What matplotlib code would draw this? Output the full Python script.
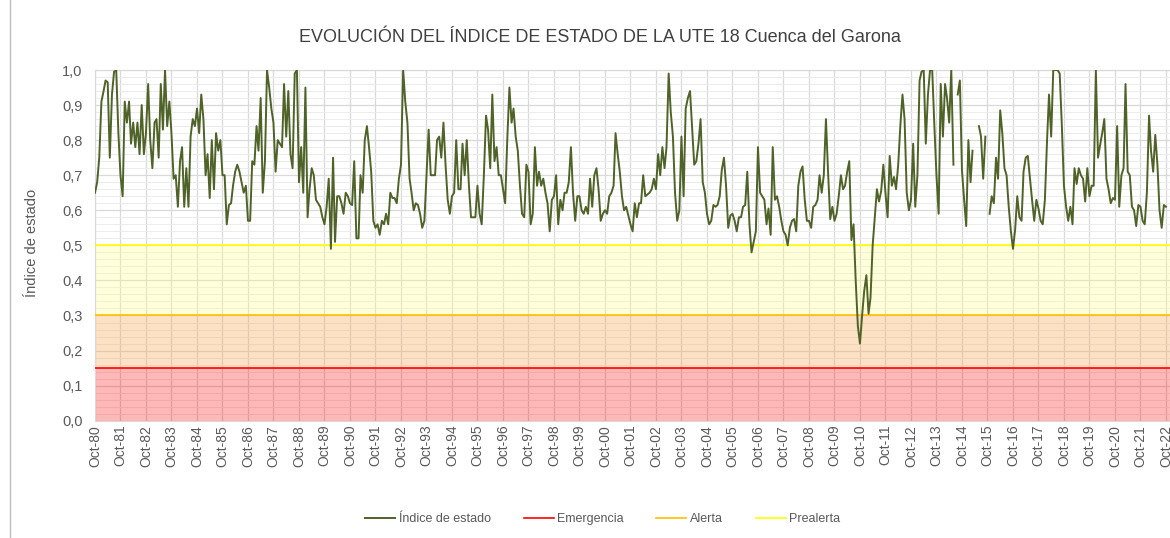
import numpy as np
import pandas as pd
import matplotlib
matplotlib.use('Agg')
import matplotlib.pyplot as plt
import matplotlib.dates as mdates
from matplotlib.lines import Line2D
from matplotlib.ticker import MultipleLocator, FuncFormatter

nan = np.nan

# Índice de estado mensual (oct-1980 ... oct-2022)
indice_80s = [
    0.65, 0.68, 0.75, 0.91, 0.94, 0.97, 0.965, 0.75, 0.93, 0.995, 1.0, 0.82,
    0.70, 0.64, 0.91, 0.85, 0.91, 0.79, 0.85, 0.78, 0.85, 0.76, 0.90, 0.76,
    0.82, 0.96, 0.80, 0.72, 0.85, 0.86, 0.75, 0.96, 0.83, 1.0, 0.84, 0.91,
    0.82, 0.69, 0.70, 0.61, 0.74, 0.78, 0.61, 0.72, 0.61, 0.81, 0.86, 0.84,
    0.89, 0.82, 0.93, 0.86, 0.70, 0.76, 0.635, 0.80, 0.66, 0.82, 0.77, 0.80,
    0.70, 0.70, 0.56, 0.615, 0.62, 0.67, 0.71, 0.73, 0.71, 0.68, 0.65, 0.67,
    0.57, 0.57, 0.74, 0.73, 0.84, 0.77, 0.92, 0.65, 0.74, 1.0, 0.95, 0.89,
    0.85, 0.71, 0.80, 0.79, 0.78, 0.96, 0.81, 0.94, 0.76, 0.72, 0.99, 1.0,
    0.68, 0.78, 0.65, 0.95, 0.58, 0.66, 0.72, 0.70, 0.63, 0.62, 0.61, 0.58,
    0.56, 0.61, 0.69, 0.49, 0.75, 0.51, 0.64, 0.64, 0.62, 0.59, 0.65, 0.64,
]
indice_90s = [
    0.62, 0.615, 0.74, 0.52, 0.52, 0.70, 0.65, 0.80, 0.84, 0.78, 0.71, 0.57,
    0.55, 0.56, 0.53, 0.57, 0.56, 0.59, 0.56, 0.65, 0.635, 0.635, 0.62, 0.69,
    0.73, 1.0, 0.91, 0.85, 0.69, 0.65, 0.60, 0.62, 0.615, 0.59, 0.55, 0.57,
    0.70, 0.83, 0.70, 0.70, 0.70, 0.80, 0.81, 0.75, 0.85, 0.73, 0.63, 0.59,
    0.64, 0.65, 0.80, 0.66, 0.66, 0.79, 0.70, 0.80, 0.67, 0.58, 0.58, 0.58,
    0.67, 0.59, 0.56, 0.70, 0.87, 0.83, 0.72, 0.93, 0.74, 0.78, 0.70, 0.70,
    0.66, 0.62, 0.80, 0.95, 0.85, 0.89, 0.81, 0.77, 0.67, 0.59, 0.58, 0.73,
    0.71, 0.56, 0.59, 0.78, 0.67, 0.71, 0.67, 0.69, 0.65, 0.62, 0.54, 0.63,
    0.64, 0.70, 0.56, 0.63, 0.60, 0.65, 0.65, 0.68, 0.78, 0.65, 0.57, 0.64,
    0.64, 0.60, 0.59, 0.61, 0.59, 0.69, 0.61, 0.70, 0.72, 0.66, 0.57, 0.59,
]
indice_00s = [
    0.60, 0.59, 0.64, 0.65, 0.67, 0.82, 0.76, 0.71, 0.64, 0.60, 0.61, 0.585,
    0.56, 0.54, 0.62, 0.58, 0.62, 0.62, 0.70, 0.64, 0.645, 0.65, 0.66, 0.69,
    0.66, 0.76, 0.70, 0.78, 0.72, 0.78, 0.99, 0.88, 0.81, 0.65, 0.57, 0.60,
    0.81, 0.64, 0.89, 0.92, 0.94, 0.84, 0.73, 0.74, 0.79, 0.86, 0.68, 0.65,
    0.59, 0.56, 0.57, 0.615, 0.61, 0.615, 0.64, 0.715, 0.75, 0.67, 0.55, 0.585,
    0.59, 0.57, 0.54, 0.58, 0.58, 0.61, 0.615, 0.71, 0.56, 0.48, 0.51, 0.54,
    0.78, 0.65, 0.64, 0.63, 0.56, 0.605, 0.53, 0.78, 0.63, 0.64, 0.61, 0.57,
    0.54, 0.53, 0.50, 0.55, 0.57, 0.575, 0.54, 0.67, 0.71, 0.725, 0.63, 0.57,
    0.57, 0.55, 0.61, 0.615, 0.63, 0.70, 0.65, 0.70, 0.86, 0.71, 0.575, 0.61,
    0.57, 0.59, 0.64, 0.70, 0.66, 0.67, 0.71, 0.74, 0.515, 0.56, 0.40, 0.27,
]
indice_10s = [
    0.22, 0.30, 0.37, 0.415, 0.305, 0.35, 0.50, 0.58, 0.66, 0.625, 0.655, 0.73,
    0.65, 0.58, 0.755, 0.67, 0.695, 0.66, 0.73, 0.84, 0.93, 0.86, 0.65, 0.60,
    0.63, 0.79, 0.61, 0.70, 0.97, 0.995, 1.0, 0.79, 0.93, 1.0, 1.0, 0.84,
    0.70, 0.59, 0.96, 0.81, 0.96, 0.92, 0.85, 1.0, 0.73, nan, 0.93, 0.97,
    0.715, 0.63, 0.555, 0.80, 0.68, 0.77, nan, nan, 0.84, 0.81, 0.69, 0.81,
    nan, 0.59, 0.64, 0.62, 0.75, 0.69, 0.885, 0.82, 0.72, 0.70, 0.61, 0.54,
    0.49, 0.545, 0.64, 0.58, 0.57, 0.71, 0.75, 0.755, 0.69, 0.63, 0.57, 0.63,
    0.605, 0.57, 0.56, 0.63, 0.80, 0.93, 0.81, 1.0, 1.0, 1.0, 0.99, 0.84,
    0.67, 0.61, 0.57, 0.61, 0.56, 0.72, 0.675, 0.72, 0.70, 0.69, 0.625, 0.72,
    0.64, 0.67, 0.67, 1.0, 0.75, 0.785, 0.82, 0.86, 0.69, 0.66, 0.62, 0.635,
]
indice_20s = [
    0.63, 0.84, 0.61, 0.70, 0.72, 0.96, 0.71, 0.70, 0.61, 0.60, 0.555, 0.615,
    0.61, 0.57, 0.56, 0.65, 0.87, 0.77, 0.71, 0.815, 0.73, 0.60, 0.55, 0.615,
    0.61,
]

umbral_emergencia = 0.15
umbral_alerta = 0.30
umbral_prealerta = 0.50

indice = indice_80s + indice_90s + indice_00s + indice_10s + indice_20s
fechas = pd.date_range('1980-10-01', periods=len(indice), freq='MS')

plt.rcParams['font.family'] = ['Liberation Sans', 'DejaVu Sans']
gris = '#595959'

fig = plt.figure(figsize=(11.7, 5.38), dpi=100)
ax = fig.add_axes([95 / 1170, 1 - 420.7 / 538, 1075 / 1170, 350.7 / 538])

# zonas de estado
ax.axhspan(0, umbral_emergencia, color='#ff0000', alpha=0.28, lw=0, zorder=1)
ax.axhspan(umbral_emergencia, umbral_alerta, color='#f9a95a', alpha=0.35, lw=0, zorder=1)
ax.axhspan(umbral_alerta, umbral_prealerta, color='#ffff80', alpha=0.28, lw=0, zorder=1)

ax.axhline(umbral_emergencia, color='#ff0000', lw=1.2, zorder=3)
ax.axhline(umbral_alerta, color='#ffc000', lw=1.2, zorder=3)
ax.axhline(umbral_prealerta, color='#ffff00', lw=1.2, zorder=3)

ax.plot(fechas, indice, color='#4f6228', lw=1.4, zorder=4)

ax.set_ylim(0, 1)
ax.set_xlim(pd.Timestamp('1980-10-01'), pd.Timestamp('2022-11-28'))

ax.yaxis.set_major_locator(MultipleLocator(0.1))
ax.yaxis.set_minor_locator(MultipleLocator(0.02))
ax.yaxis.set_major_formatter(FuncFormatter(lambda v, p: f'{v:.1f}'.replace('.', ',')))
ax.xaxis.set_major_locator(mdates.MonthLocator(bymonth=10))
ax.xaxis.set_major_formatter(mdates.DateFormatter('%b-%y'))

ax.grid(which='major', axis='both', color='#d9d9d9', lw=0.9, zorder=0)
ax.grid(which='minor', axis='y', color='#ececec', lw=0.7, zorder=0)
ax.set_axisbelow(True)

ax.tick_params(which='both', length=0)
ax.tick_params(axis='y', pad=9, labelsize=10.5, labelcolor=gris)
ax.tick_params(axis='x', pad=3, labelsize=10, labelcolor=gris, labelrotation=90)
for s in ax.spines.values():
    s.set_color('#d9d9d9')

fig.text(600 / 1170, 1 - 38 / 538, 'EVOLUCIÓN DEL ÍNDICE DE ESTADO DE LA UTE 18 Cuenca del Garona',
         ha='center', va='center', fontsize=13, color='#404040')
fig.text(32 / 1170, 1 - 243 / 538, 'Índice de estado', rotation=90,
         ha='center', va='center', fontsize=10.5, color=gris)

handles = [Line2D([], [], color='#4f6228', lw=1.4),
           Line2D([], [], color='#ff0000', lw=1.2),
           Line2D([], [], color='#ffc000', lw=1.2),
           Line2D([], [], color='#ffff00', lw=1.2)]
labels = ['Índice de estado', 'Emergencia', 'Alerta', 'Prealerta']
leg = fig.legend(handles, labels, loc='center', bbox_to_anchor=(603 / 1170, 1 - 519 / 538),
                 ncol=4, frameon=False, fontsize=9, handlelength=2.4,
                 handletextpad=0.3, columnspacing=2.6)
for t in leg.get_texts():
    t.set_color(gris)

fig.add_artist(Line2D([10 / 1170, 10 / 1170], [0, 1], color='#bfbfbf', lw=1,
                      transform=fig.transFigure))

fig.savefig('out.png', dpi=100)
